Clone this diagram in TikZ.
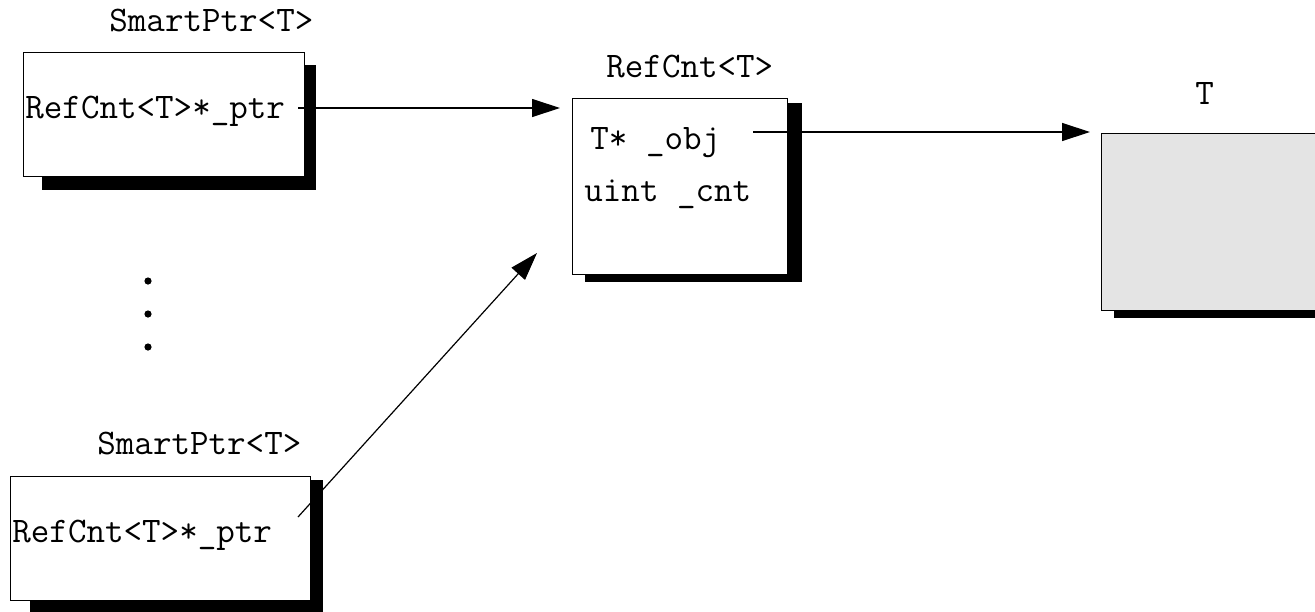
\documentclass[tikz,border=0pt]{standalone}
\usetikzlibrary{arrows.meta}
\tikzset{
  px/.style={x=0.5pt,y=-0.5pt},
  box/.style={draw=black,line width=0.6pt,fill=white,inner sep=0pt,anchor=north west},
  shadowbox/.style={fill=black},
  code/.style={font=\ttfamily\fontsize{18pt}{20pt}\selectfont,inner sep=0pt,anchor=base west},
  ptr/.style={line width=0.6pt,-{Triangle[length=14pt,width=9pt]}},
  dot/.style={circle,fill=black,inner sep=0pt,minimum size=3.6pt}
}
\begin{document}
\begin{tikzpicture}[px]
\useasboundingbox (0,0) rectangle (1315,611);
% shadows
\fill[shadowbox] (42,65) rectangle (316,190);
\fill[shadowbox] (585,103) rectangle (802,282);
\fill[shadowbox] (1114,140) rectangle (1340,318);
\fill[shadowbox] (30,480) rectangle (323,615);
% boxes
\node[box,minimum width=140.5pt,minimum height=62pt] (b1) at (23,52) {};
\node[box,minimum width=107.5pt,minimum height=88pt] (b2) at (572,98) {};
\node[box,fill={rgb,255:red,228;green,228;blue,228},minimum width=120pt,minimum height=88.5pt] (b3) at (1101,133) {};
\node[box,minimum width=150pt,minimum height=62pt] (b4) at (10,476) {};
% titles
\node[code] (l1) at (109,31) {SmartPtr<T>};
\node[code] (l2) at (606,77) {RefCnt<T>};
\node[code] (l3) at (1195,104) {T};
\node[code] (l4) at (97,454) {SmartPtr<T>};
% fields
\node[code] (t1) at (25,118) {RefCnt<T>*\_ptr};
\node[code] (t2) at (590,149) {T* \_obj};
\node[code] (t3) at (584,201) {uint \_cnt};
\node[code] (t4) at (12,542) {RefCnt<T>*\_ptr};
% dots
\node[dot] (d1) at (148,281) {};
\node[dot] (d2) at (148,314) {};
\node[dot] (d3) at (148,347) {};
% connectors
\coordinate (a1s) at (298,108);
\coordinate (a2s) at (753,132);
\coordinate (a3s) at (298,517);
\coordinate (a3e) at (537,253);
\draw[ptr] (a1s) -- ([xshift=-6pt]b2.west |- a1s);
\draw[ptr] (a2s) -- ([xshift=-5.5pt]b3.west |- a2s);
\draw[ptr] (a3s) -- (a3e);
\end{tikzpicture}
\end{document}
